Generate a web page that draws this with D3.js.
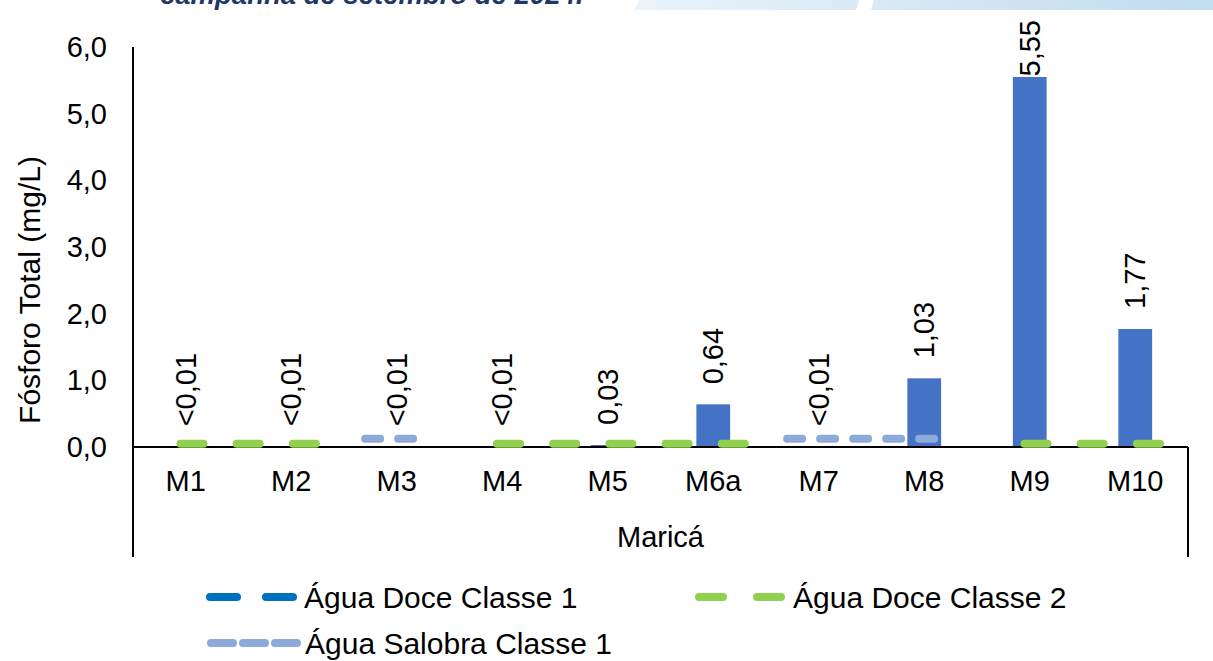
<!DOCTYPE html>
<html>
<head>
<meta charset="utf-8">
<script src="https://cdn.jsdelivr.net/npm/d3@7"></script>
<style>
  body { margin: 0; background: #fff; }
  svg { display: block; font-family: "Liberation Sans", Arial, sans-serif; }
</style>
</head>
<body>
<svg id="chart" width="1213" height="661"></svg>
<script>
const categories = ['M1', 'M2', 'M3', 'M4', 'M5', 'M6a', 'M7', 'M8', 'M9', 'M10'];
const values = [0.01, 0.01, 0.01, 0.01, 0.03, 0.64, 0.01, 1.03, 5.55, 1.77];
const valueLabels = ['<0,01', '<0,01', '<0,01', '<0,01', '0,03', '0,64', '<0,01', '1,03', '5,55', '1,77'];
// limits (null = not applicable to that point)
const doceClasse2 = [0.05, 0.05, null, 0.05, 0.05, 0.05, null, null, 0.05, 0.05];
const salobraClasse1 = [null, null, 0.124, null, null, null, 0.124, 0.124, null, null];
const yTicks = [0, 1, 2, 3, 4, 5, 6];
const groupLabel = 'Maricá';
const yTitle = 'Fósforo Total (mg/L)';

const svg = d3.select('#chart');
const margin = { top: 47, right: 25, bottom: 214, left: 133 };
const width = 1213, height = 661;
const innerWidth = width - margin.left - margin.right;
const innerHeight = height - margin.top - margin.bottom;
const fontSize = 29;

// header remnants (cut-off title + decorative band)
const defs = svg.append('defs');
const grad = defs.append('linearGradient').attr('id', 'band');
grad.append('stop').attr('offset', '0%').attr('stop-color', '#eaf3fa');
grad.append('stop').attr('offset', '100%').attr('stop-color', '#c1dcef');
svg.append('polygon')
  .attr('points', '640,0 1213,0 1213,10 634,10')
  .attr('fill', 'url(#band)');
svg.append('polygon')
  .attr('points', '859,0 874,0 871,10 856,10')
  .attr('fill', '#fff');
svg.append('text')
  .attr('x', 160).attr('y', 4)
  .attr('font-size', 27.5).attr('font-weight', 'bold').attr('font-style', 'italic')
  .attr('fill', '#1f3864')
  .text('campanha de setembro de 2024.');

const x = d3.scaleBand().domain(categories).range([0, innerWidth]);
const y = d3.scaleLinear().domain([0, 6]).range([innerHeight, 0]);
const barW = x.bandwidth() * 0.32;
const cx = (c) => x(c) + x.bandwidth() / 2;

const g = svg.append('g')
  .attr('transform', 'translate(' + margin.left + ',' + margin.top + ')');

// bars
g.selectAll('.bar')
  .data(values)
  .enter()
  .append('rect')
  .attr('class', 'bar')
  .attr('x', (d, i) => cx(categories[i]) - barW / 2)
  .attr('y', (d) => y(d))
  .attr('width', barW)
  .attr('height', (d) => innerHeight - y(d))
  .attr('fill', '#4472c4');

// axes frame (multi-level category box)
const axisBottom = innerHeight + 110;
g.append('line').attr('x1', 0).attr('x2', 0).attr('y1', 0).attr('y2', axisBottom)
  .attr('stroke', '#000').attr('stroke-width', 2);
g.append('line').attr('x1', innerWidth).attr('x2', innerWidth).attr('y1', innerHeight).attr('y2', axisBottom)
  .attr('stroke', '#000').attr('stroke-width', 2);
g.append('line').attr('x1', 0).attr('x2', innerWidth).attr('y1', innerHeight).attr('y2', innerHeight)
  .attr('stroke', '#000').attr('stroke-width', 2);

// limit lines: contiguous runs drawn dashed
function runs(arr) {
  const out = [];
  let cur = null;
  arr.forEach((v, i) => {
    if (v == null) { cur = null; return; }
    if (!cur) { cur = { start: i, end: i, value: v }; out.push(cur); }
    else cur.end = i;
  });
  return out;
}

function drawLimit(arr, color, dash, before, after) {
  const step = x.step();
  g.selectAll(null)
    .data(runs(arr))
    .enter()
    .append('line')
    .attr('x1', (r) => cx(categories[r.start]) - step * before)
    .attr('x2', (r) => cx(categories[r.end]) + step * after)
    .attr('y1', (r) => y(r.value))
    .attr('y2', (r) => y(r.value))
    .attr('stroke', color)
    .attr('stroke-width', 8)
    .attr('stroke-linecap', 'round')
    .attr('stroke-dasharray', dash);
}

drawLimit(salobraClasse1, '#8eaadb', '15,18', 0.3, 0.2);
drawLimit(doceClasse2, '#92d050', '23,33.2', 0.05, 0.3);

// y axis labels
g.selectAll('.ytick')
  .data(yTicks)
  .enter()
  .append('text')
  .attr('x', -26)
  .attr('y', (d) => y(d))
  .attr('dy', '0.35em')
  .attr('text-anchor', 'end')
  .attr('font-size', fontSize)
  .text((d) => d3.format('.1f')(d).replace('.', ','));

// category labels
g.selectAll('.xtick')
  .data(categories)
  .enter()
  .append('text')
  .attr('x', (d) => cx(d))
  .attr('y', innerHeight + 34)
  .attr('dy', '0.35em')
  .attr('text-anchor', 'middle')
  .attr('font-size', fontSize)
  .text((d) => d);

g.append('text')
  .attr('x', innerWidth / 2)
  .attr('y', innerHeight + 90)
  .attr('dy', '0.35em')
  .attr('text-anchor', 'middle')
  .attr('font-size', fontSize)
  .text(groupLabel);

// y title
svg.append('text')
  .attr('transform', 'translate(29,' + (margin.top + 243) + ') rotate(-90)')
  .attr('dy', '0.35em')
  .attr('text-anchor', 'middle')
  .attr('font-size', 30)
  .text(yTitle);

// data labels (rotated, above the bar, kept inside the chart)
const labels = g.selectAll('.dlabel')
  .data(values)
  .enter()
  .append('text')
  .attr('class', 'dlabel')
  .attr('dy', '0.35em')
  .attr('text-anchor', 'start')
  .attr('font-size', fontSize)
  .text((d, i) => valueLabels[i]);
labels.attr('transform', function (d, i) {
  const len = this.getComputedTextLength();
  const yy = Math.max(y(d) - 20, len - 27);
  return 'translate(' + cx(categories[i]) + ',' + yy + ') rotate(-90)';
});

// legend
const legendItems = [
  { label: 'Água Doce Classe 1', color: '#0070c0', dash: '27,29', x: 210, y: 597 },
  { label: 'Água Doce Classe 2', color: '#92d050', dash: '24,34', x: 699, y: 597 },
  { label: 'Água Salobra Classe 1', color: '#8eaadb', dash: '22,10', x: 211, y: 643 },
];
const lg = svg.append('g');
const item = lg.selectAll('.leg')
  .data(legendItems)
  .enter()
  .append('g')
  .attr('transform', (d) => 'translate(' + d.x + ',' + d.y + ')');
item.append('line')
  .attr('x1', 0).attr('x2', 86).attr('y1', 0).attr('y2', 0)
  .attr('stroke', (d) => d.color)
  .attr('stroke-width', 8)
  .attr('stroke-linecap', 'round')
  .attr('stroke-dasharray', (d) => d.dash);
item.append('text')
  .attr('x', 94)
  .attr('dy', '0.35em')
  .attr('font-size', 30)
  .text((d) => d.label);
</script>
</body>
</html>
